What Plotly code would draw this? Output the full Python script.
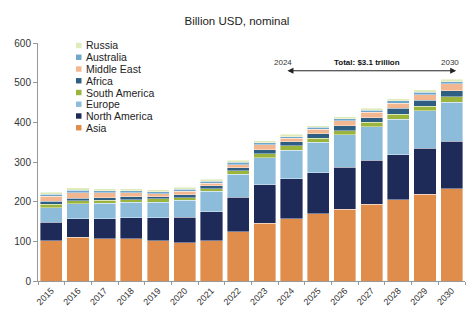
import plotly.graph_objects as go

years = [str(y) for y in range(2015, 2031)]

asia          = [101, 110, 107, 107, 101,  97, 101, 124, 145, 157, 169, 181, 193, 205, 219, 233]
north_america = [ 47,  47,  50,  53,  58,  64,  73,  87,  98, 101, 104, 106, 111, 113, 116, 119]
europe        = [ 37,  38,  39,  38,  40,  42,  52,  58,  68,  72,  77,  82,  85,  90,  94,  99]
south_america = [  9,   7,   7,   7,   8,   7,   7,   9,  10,  11,  10,  10,  11,  12,  12,  13]
africa        = [  7,   6,   7,   7,   6,   7,   7,   8,  10,  10,  11,  12,  12,  15,  15,  16]
middle_east   = [ 13,  14,  12,  11,   7,   9,   7,   7,  12,   9,  11,  13,  13,  13,  14,  17]
australia     = [  5,   7,   5,   5,   5,   5,   5,   6,   5,   4,   5,   5,   5,   6,   6,   5]
russia        = [  5,   6,   6,   5,   5,   5,   5,   5,   5,   6,   4,   5,   5,   5,   6,   6]

series_names = ["Asia", "North America", "Europe", "South America", "Africa",
                "Middle East", "Australia", "Russia"]
series_values = [asia, north_america, europe, south_america, africa,
                 middle_east, australia, russia]
series_colors = ["#E08C4A", "#1E2A57", "#8DBCDA", "#9AB43C", "#2E5F82",
                 "#F2B690", "#6FA6CB", "#DFEBB9"]

y_ticks = [0, 100, 200, 300, 400, 500, 600]

W, H = 474, 336
L, R, T, B = 38, 9, 43, 55

def px(x):
    return (x - L) / (W - L - R)

def py(y):
    return (H - B - y) / (H - T - B)

fig = go.Figure()
for name, vals, col in zip(series_names, series_values, series_colors):
    fig.add_trace(go.Bar(x=years, y=vals, name=name, marker_color=col,
                         marker_line_width=0.4, marker_line_color="white",
                         showlegend=False))

annotations = []
shapes = []
# legend drawn as text, top item first (Russia)
for i, (name, col) in enumerate(zip(series_names[::-1], series_colors[::-1])):
    yc = 45.5 + i * 11.75
    shapes.append(dict(type="rect", xref="paper", yref="paper",
                       x0=px(76), x1=px(81.5), y0=py(yc + 2.7), y1=py(yc - 2.7),
                       fillcolor=col, line_width=0))
    annotations.append(dict(xref="paper", yref="paper", x=px(83.5), y=py(yc),
                            xanchor="left", yanchor="middle", showarrow=False,
                            text=name, font=dict(size=10.5, color="#222222")))

# total arrow
annotations.append(dict(xref="x", yref="y", axref="x", ayref="y",
                        x=15.17, y=530, ax=8.79, ay=530, text="",
                        showarrow=True, arrowside="end+start", arrowhead=2,
                        arrowsize=1.2, arrowwidth=1, arrowcolor="#222222"))
annotations.append(dict(xref="x", yref="y", x=8.68, y=550, text="2024",
                        showarrow=False, font=dict(size=8, color="#333333")))
annotations.append(dict(xref="x", yref="y", x=14.95, y=550, text="2030",
                        showarrow=False, font=dict(size=8, color="#333333")))
annotations.append(dict(xref="x", yref="y", x=11.83, y=550,
                        text="<b>Total: $3.1 trillion</b>",
                        showarrow=False, font=dict(size=8, color="#111111")))

fig.update_layout(
    width=W, height=H,
    margin=dict(l=L, r=R, t=T, b=B),
    barmode="stack", bargap=0.17,
    paper_bgcolor="white", plot_bgcolor="white",
    font=dict(family="Liberation Sans, Arial, sans-serif", color="#333333"),
    title=dict(text="Billion USD, nominal", x=0.5, xanchor="center",
               y=(H - 21) / H, yanchor="middle",
               font=dict(size=11.5, color="#222222")),
    annotations=annotations, shapes=shapes,
    xaxis=dict(type="category", tickangle=-45, tickfont=dict(size=9, color="#333333"),
               showline=True, linecolor="#999999", linewidth=1,
               ticks="outside", ticklen=3, tickcolor="#999999",
               tickson="boundaries", showgrid=False),
    yaxis=dict(range=[0, 600], tickvals=y_ticks, tickfont=dict(size=10, color="#333333"),
               showline=True, linecolor="#999999", linewidth=1,
               ticks="outside", ticklen=4, tickcolor="#999999",
               showgrid=False, zeroline=False),
)

fig.write_html("out.html")
